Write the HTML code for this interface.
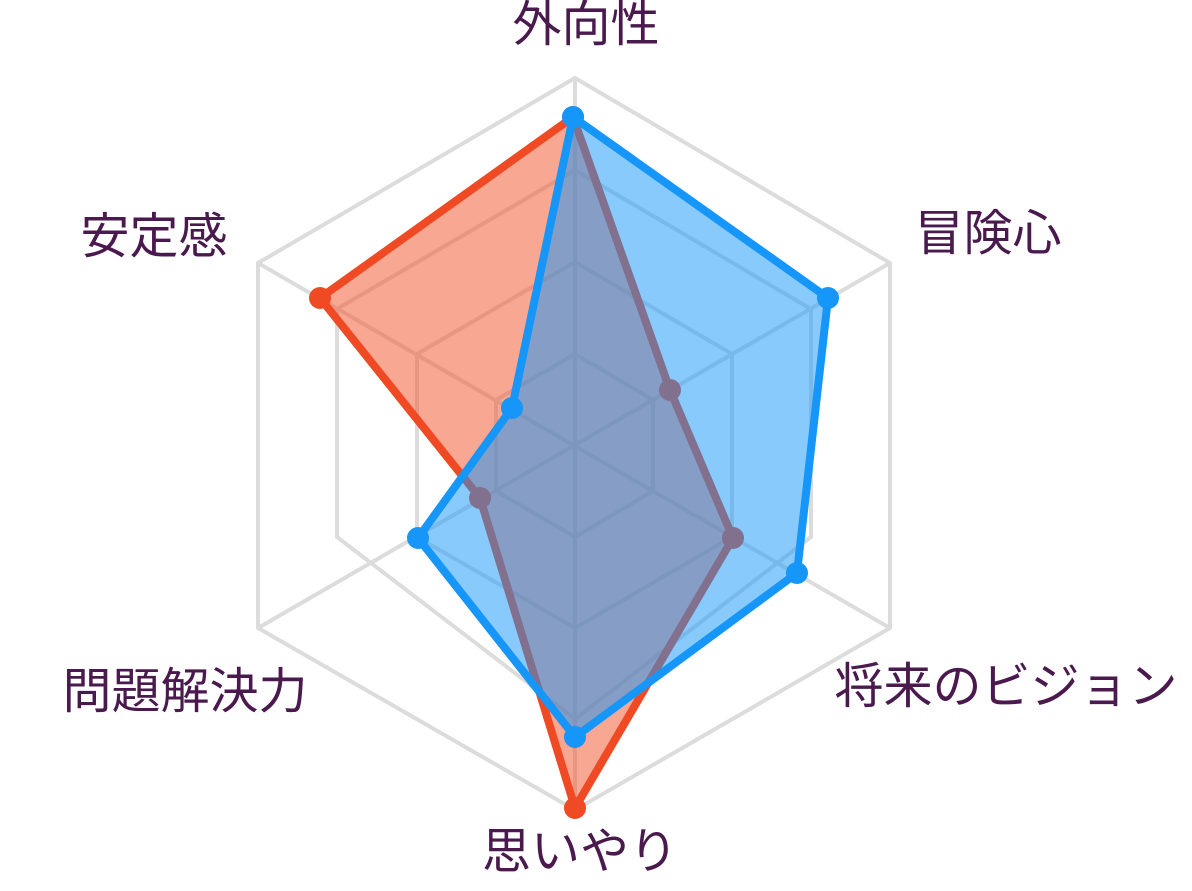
<!DOCTYPE html>
<html><head><meta charset="utf-8"><style>
html,body{margin:0;padding:0;background:#fff;}
svg{display:block}
text{font-family:"Liberation Sans","Noto Sans CJK JP",sans-serif;font-size:49px;fill:#4a1a4e;text-anchor:middle;dominant-baseline:middle}
</style></head><body>
<svg width="1192" height="891" viewBox="0 0 1192 891">
<g fill="none" stroke="#dcdcdc" stroke-width="4">
<polygon points="575,78 890,263 890,628 575,810 258,628 258,263"/>
<polygon points="575,170 811,309 811,537 575,719 337,537 337,309"/>
<polygon points="575,262 732,354 732,537 575,628 417,537 417,354"/>
<polygon points="575,354 653,400 653,491 575,537 496,491 496,400"/>
<line x1="575" y1="78" x2="575" y2="810"/>
<line x1="258" y1="263" x2="890" y2="628"/>
<line x1="890" y1="263" x2="258" y2="628"/>
</g>
<polygon points="573,117 670,390 733,538 575,808 480,498 320,298" fill="rgba(242,80,40,0.5)" stroke="#f04a24" stroke-width="8" stroke-linejoin="round"/>
<g fill="#f04a24"><circle cx="573" cy="117" r="11"/><circle cx="670" cy="390" r="11"/><circle cx="733" cy="538" r="11"/><circle cx="575" cy="808" r="11"/><circle cx="480" cy="498" r="11"/><circle cx="320" cy="298" r="11"/></g>
<polygon points="573,117 828,298 797,573 575,737 418,538 512,408" fill="rgba(20,150,250,0.5)" stroke="#1596f8" stroke-width="8" stroke-linejoin="round"/>
<g fill="#1596f8"><circle cx="573" cy="117" r="11"/><circle cx="828" cy="298" r="11"/><circle cx="797" cy="573" r="11"/><circle cx="575" cy="737" r="11"/><circle cx="418" cy="538" r="11"/><circle cx="512" cy="408" r="11"/></g>
<text x="586" y="28">外向性</text>
<text x="988" y="237">冒険心</text>
<text x="1006" y="690">将来のビジョン</text>
<text x="580" y="855">思いやり</text>
<text x="185" y="695">問題解決力</text>
<text x="154" y="240">安定感</text>
</svg>
</body></html>
